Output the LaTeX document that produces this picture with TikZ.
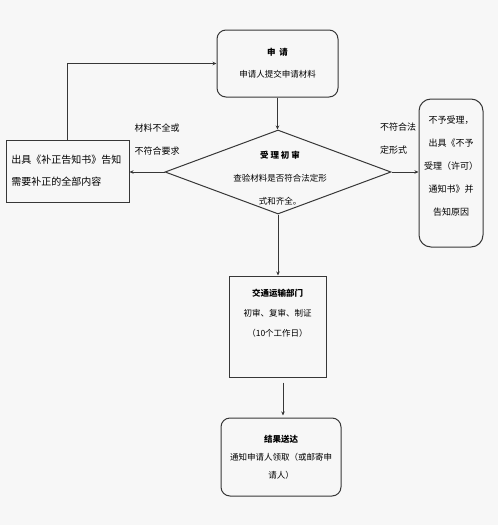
\documentclass[tikz,border=0pt]{standalone}
\usepackage{fontspec}
\setmainfont{Noto Sans CJK SC}
\usetikzlibrary{shapes.geometric, arrows.meta, positioning}
\definecolor{BgGray}{RGB}{247,247,247}
\definecolor{LineGray}{RGB}{55,55,55}

\begin{document}
\begin{tikzpicture}[x=1pt, y=-1pt,
            box/.style={rectangle, draw=LineGray, line width=1pt, inner sep=0pt,
                        align=center, font=\fontsize{8.5}{22}\selectfont},
            rbox/.style={box, rounded corners=9pt},
            arr/.style={-{Stealth[length=4pt, width=3.5pt]}, LineGray, line width=0.7pt},
            lbl/.style={align=left, inner sep=0pt, font=\fontsize{9}{23}\selectfont}
          ]
          \fill[BgGray] (0,0) rectangle (498,525);
          \useasboundingbox (0,0) rectangle (498,525);

          \node[rbox, minimum width=121pt, minimum height=67pt] (apply) at (277.5, 63.5)
                {\textbf{申\ \ 请}\\申请人提交申请材料};
          \node[box, minimum width=123pt, minimum height=62pt, align=left, text width=112pt,
                font=\fontsize{10}{22}\selectfont] (supp) at (67.5, 171)
                {出具《补正告知书》告知\\需要补正的全部内容};
          \node[diamond, draw=LineGray, line width=1pt, inner sep=0pt,
                minimum width=226pt, minimum height=84pt] (check) at (278, 172) {};
          \node[align=center, inner sep=0pt, font=\fontsize{8.5}{23}\selectfont] (checktxt)
                at (280, 178) {\textbf{受\ 理\ 初\ 审}\\查验材料是否符合法定形\\式和齐全。};
          \node[rbox, rounded corners=12pt, minimum width=64pt, minimum height=148pt,
                font=\fontsize{9}{23}\selectfont] (refuse) at (451, 173)
                {不予受理，\\出具《不予\\受理（许可）\\通知书》并\\告知原因\\[-9pt]\mbox{}};
          \node[box, minimum width=97pt, minimum height=101pt,
                font=\fontsize{8.5}{20}\selectfont] (dept) at (277.5, 326.5)
                {\textbf{交通运输部门}\\初审、复审、制证\\（10个工作日）\\[7pt]\mbox{}};
          \node[rbox, minimum width=120pt, minimum height=78pt,
                font=\fontsize{8.5}{18}\selectfont] (result) at (281, 457)
                {\textbf{结果送达}\\通知申请人领取（或邮寄申\\请人）};

          \node[lbl] (lblleft)  at (157, 140) {材料不全或\\不符合要求};
          \node[lbl] (lblright) at (398, 139) {不符合法\\定形式};

          \draw[arr] (apply.south) -- (apply.south |- check.north);
          \draw[arr] (check.west)  -- (check.west -| supp.east);
          \draw[arr] (check.east)  -- (check.east -| refuse.west);
          \draw[arr] (check.south) -- (check.south |- dept.north);
          \draw[arr] ([xshift=5.5pt, yshift=-5pt]dept.south)
                  -- ([xshift=5.5pt, yshift=2pt]dept.south |- result.north);
          \draw[arr] (supp.north)  |- (apply.west);
        \end{tikzpicture}
\end{document}
